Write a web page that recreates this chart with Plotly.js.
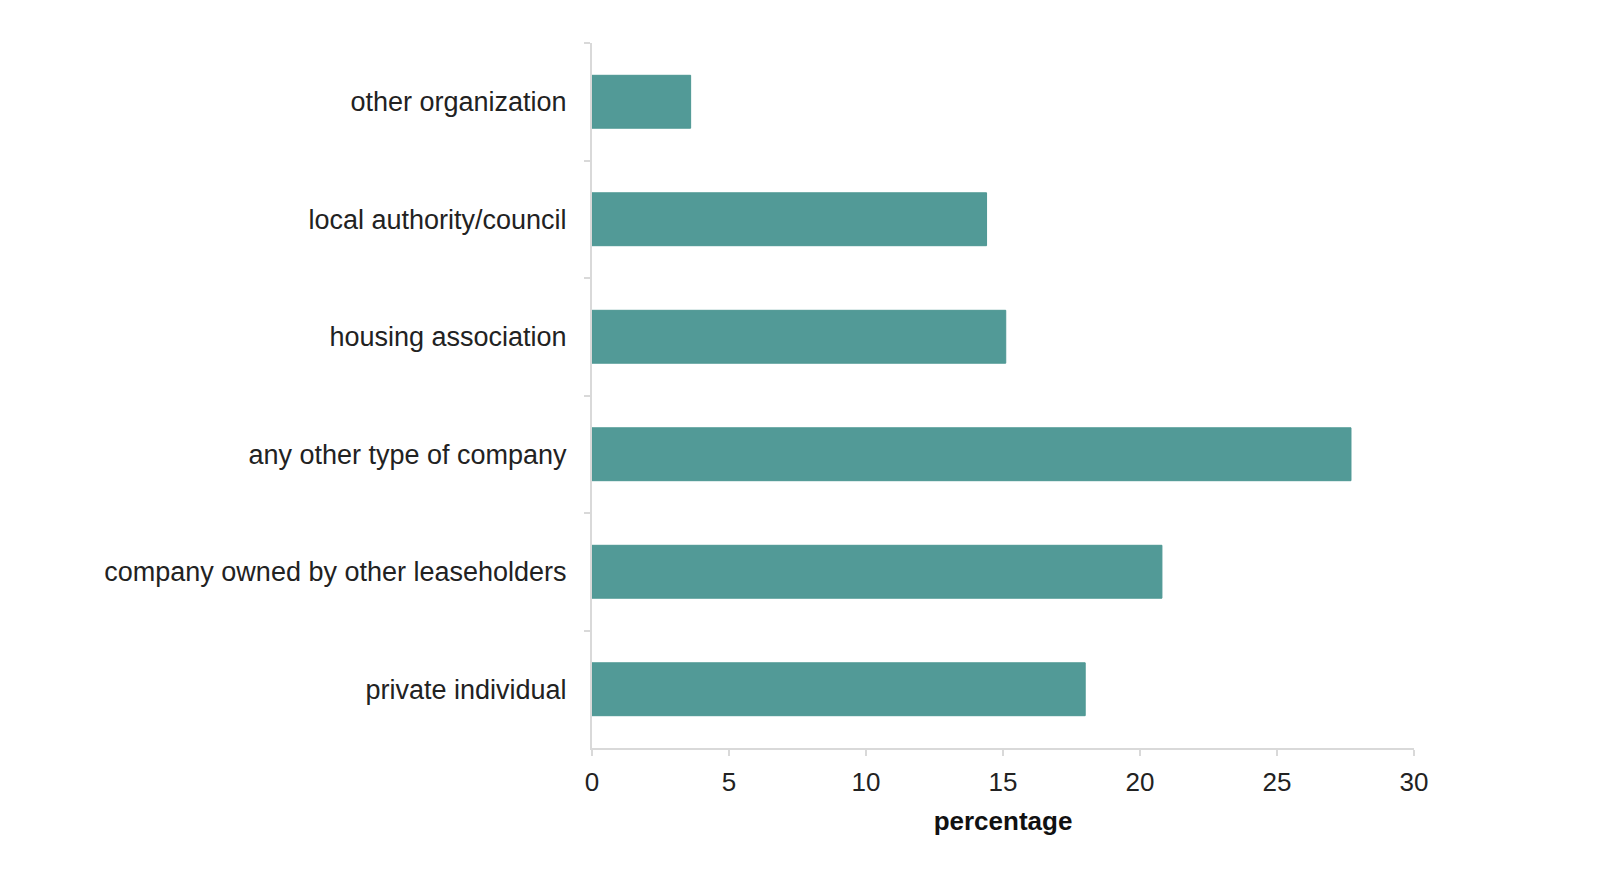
<!DOCTYPE html>
<html>
<head>
<meta charset="utf-8">
<script src="https://cdn.plot.ly/plotly-3.0.1.min.js"></script>
<style>
  html, body { margin: 0; padding: 0; background: #ffffff; }
  #chart { width: 1600px; height: 875px; }
</style>
</head>
<body>
<div id="chart"></div>
<script>
const categories = [
  "other organization",
  "local authority/council",
  "housing association",
  "any other type of company",
  "company owned by other leaseholders",
  "private individual"
];
const percentages = [3.6, 14.4, 15.1, 27.7, 20.8, 18.0];
const xTickValues = [0, 5, 10, 15, 20, 25, 30];
const xAxisTitle = "percentage";

const trace = {
  type: "bar",
  orientation: "h",
  y: categories,
  x: percentages,
  marker: { color: "#529a97", line: { color: "#4d9793", width: 1 } },
  hoverinfo: "x+y"
};

const layout = {
  width: 1600,
  height: 875,
  paper_bgcolor: "#ffffff",
  plot_bgcolor: "#ffffff",
  margin: { l: 592, r: 186, t: 43, b: 127 },
  bargap: 0.55,
  showlegend: false,
  font: { family: "Liberation Sans, Arial, sans-serif", color: "#222222" },
  xaxis: {
    range: [0, 30],
    tickvals: xTickValues,
    ticktext: xTickValues.map(String),
    showgrid: false,
    zeroline: false,
    showline: true,
    linecolor: "#d9d9d9",
    linewidth: 2,
    ticks: "outside",
    ticklen: 6,
    tickwidth: 2,
    tickcolor: "#d9d9d9",
    ticklabelstandoff: 4,
    tickfont: { size: 26, color: "#222222" },
    title: { text: "<b>" + xAxisTitle + "</b>", font: { size: 26, color: "#111111" }, standoff: 16 }
  },
  yaxis: {
    type: "category",
    autorange: "reversed",
    showgrid: false,
    zeroline: false,
    showline: true,
    linecolor: "#d9d9d9",
    linewidth: 2,
    ticks: "outside",
    tickson: "boundaries",
    ticklen: 6,
    tickwidth: 2,
    tickcolor: "#d9d9d9",
    ticklabelstandoff: 18,
    tickfont: { size: 27, color: "#222222" }
  }
};

Plotly.newPlot("chart", [trace], layout, { displayModeBar: false, responsive: false });
</script>
</body>
</html>
